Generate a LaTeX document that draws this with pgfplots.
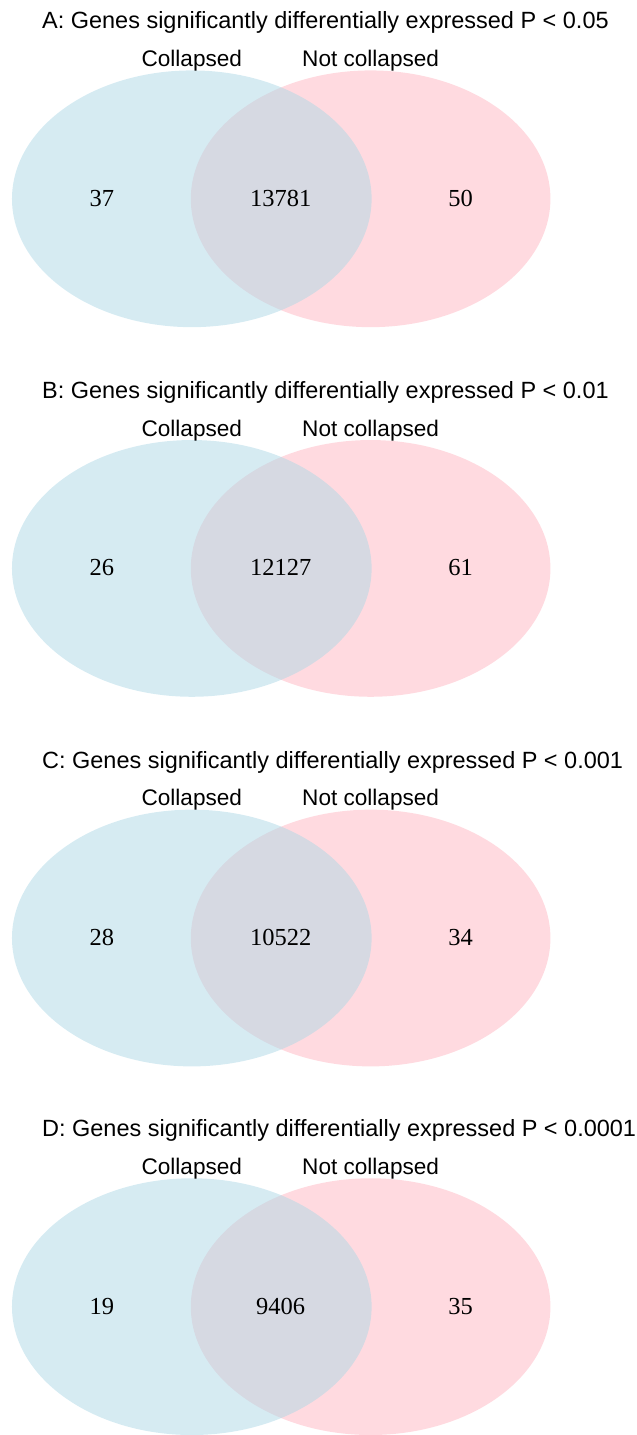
\documentclass[border=0pt]{standalone}
\usepackage{pgfplots}
\pgfplotsset{compat=1.18}
\usepackage{fontspec}
\setmainfont{Liberation Sans}
\newfontfamily\numfont{Liberation Serif}

\definecolor{setA}{HTML}{ADD8E6}
\definecolor{setB}{HTML}{FFB6C1}

% One panel: #1 centre line (y), #2 title, #3 only collapsed, #4 both, #5 only not collapsed,
% #6 title baseline, #7 set-label baseline, #8 count baseline
\newcommand\vennpanel[8]{%
  \fill[setB, opacity=0.5] (axis cs:371,#1) ellipse [x radius=180, y radius=128.5];
  \fill[setA, opacity=0.5] (axis cs:192,#1) ellipse [x radius=180, y radius=128.5];
  \node[anchor=base west, inner sep=0pt, font=\fontsize{23.5}{28}\selectfont] at (axis cs:42,#6) {#2};
  \node[anchor=base, inner sep=0pt, font=\fontsize{22.6}{27}\selectfont] at (axis cs:192,#7) {Collapsed};
  \node[anchor=base, inner sep=0pt, font=\fontsize{22.6}{27}\selectfont] at (axis cs:371,#7) {Not collapsed};
  \node[anchor=base, inner sep=0pt, font=\numfont\fontsize{24.5}{29}\selectfont] at (axis cs:102,#8) {#3};
  \node[anchor=base, inner sep=0pt, font=\numfont\fontsize{24.5}{29}\selectfont] at (axis cs:281,#8) {#4};
  \node[anchor=base, inner sep=0pt, font=\numfont\fontsize{24.5}{29}\selectfont] at (axis cs:461,#8) {#5};
}

\begin{document}
\begin{tikzpicture}
\begin{axis}[
  scale only axis,
  width=634pt, height=1435pt,
  xmin=0, xmax=634, ymin=0, ymax=1435,
  y dir=reverse,
  hide axis,
  clip=false,
]
% keep the full page area even where nothing is drawn
\path (rel axis cs:0,0) rectangle (rel axis cs:1,1);
\vennpanel{199}{A: Genes significantly differentially expressed P < 0.05}{37}{13781}{50}{29}{66.5}{206.5}
\vennpanel{569}{B: Genes significantly differentially expressed P < 0.01}{26}{12127}{61}{399}{436.5}{576.5}
\vennpanel{939}{C: Genes significantly differentially expressed P < 0.001}{28}{10522}{34}{769}{806.5}{946.5}
\vennpanel{1308}{D: Genes significantly differentially expressed P < 0.0001}{19}{9406}{35}{1138}{1175.5}{1315.5}
\end{axis}
\end{tikzpicture}
\end{document}
